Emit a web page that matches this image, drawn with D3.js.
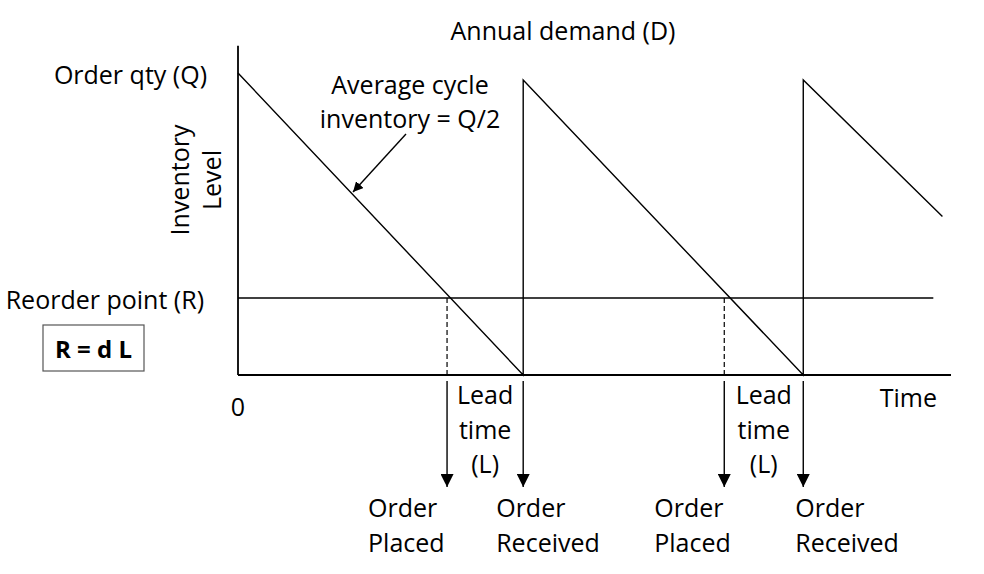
<!DOCTYPE html>
<html>
<head>
<meta charset="utf-8">
<script src="https://cdn.jsdelivr.net/npm/d3@7"></script>
<style>
  body { margin: 0; background: #fff; }
  text { font-family: "Open Sans", Lato, sans-serif; fill: #000; }
</style>
</head>
<body>
<div id="chart"></div>
<script>
// sawtooth inventory profile (time in cycles, level in % of Q)
var times  = [0, 1.0, 1.0, 1.982, 1.982, 2.47];
var levels = [100, 0, 97.7, 0, 97.7, 52.5];
var reorderLevel = 25.5;
var orderPlaced = [0.733, 1.705];
var orderReceived = [1.0, 1.982];

var width = 984, height = 574;
var fs = 25;

var x = d3.scaleLinear().domain([0, 2.5]).range([238, 951]);
var y = d3.scaleLinear().domain([0, 100]).range([375, 73]);

// label offsets from each event arrow (layout only)
var placedShift = [-79, -70];
var receivedShift = [-27, -8];

var svg = d3.select("#chart")
  .append("svg")
    .attr("width", width)
    .attr("height", height);

var defs = svg.append("defs");
defs.append("marker")
    .attr("id", "head")
    .attr("viewBox", "0 0 10 10")
    .attr("refX", 10).attr("refY", 5)
    .attr("markerWidth", 10).attr("markerHeight", 10)
    .attr("markerUnits", "userSpaceOnUse")
    .attr("orient", "auto")
  .append("path")
    .attr("d", "M0,0 L10,5 L0,10 Z")
    .attr("fill", "#000");
defs.append("marker")
    .attr("id", "bighead")
    .attr("viewBox", "0 0 10 10")
    .attr("refX", 10).attr("refY", 5)
    .attr("markerWidth", 14).attr("markerHeight", 13)
    .attr("markerUnits", "userSpaceOnUse")
    .attr("orient", "auto")
  .append("path")
    .attr("d", "M0,0 L10,5 L0,10 Z")
    .attr("fill", "#000");

// axes (no ticks)
svg.append("line")
    .attr("x1", x(0)).attr("x2", x(0))
    .attr("y1", y(0)).attr("y2", y(109))
    .attr("stroke", "#000").attr("stroke-width", 1.8);
svg.append("line")
    .attr("x1", x(0)).attr("x2", x(2.5))
    .attr("y1", y(0)).attr("y2", y(0))
    .attr("stroke", "#000").attr("stroke-width", 1.8);

// reorder point line
svg.append("line")
    .attr("x1", x(0)).attr("x2", x(2.438))
    .attr("y1", y(reorderLevel)).attr("y2", y(reorderLevel))
    .attr("stroke", "#000").attr("stroke-width", 1.4);

// inventory line
var line = d3.line()
  .x(function(d, i) { return x(times[i]); })
  .y(function(d) { return y(d); });

svg.append("path")
    .datum(levels)
    .attr("d", line)
    .attr("fill", "none")
    .attr("stroke", "#000")
    .attr("stroke-width", 1.4);

// dashed drops at order placed
svg.selectAll(".drop")
  .data(orderPlaced)
  .enter().append("line")
    .attr("x1", function(d) { return x(d); })
    .attr("x2", function(d) { return x(d); })
    .attr("y1", y(reorderLevel)).attr("y2", y(0))
    .attr("stroke", "#000").attr("stroke-width", 1.2)
    .attr("stroke-dasharray", "5,3");

// down arrows below axis
var events = orderPlaced.concat(orderReceived);
svg.selectAll(".evt")
  .data(events)
  .enter().append("line")
    .attr("x1", function(d) { return x(d); })
    .attr("x2", function(d) { return x(d); })
    .attr("y1", 381).attr("y2", 487)
    .attr("stroke", "#000").attr("stroke-width", 1.4)
    .attr("marker-end", "url(#bighead)");

// lead time labels
orderPlaced.forEach(function(p, i) {
  var cx = (x(p) + x(orderReceived[i])) / 2;
  var t = svg.append("text")
      .attr("text-anchor", "middle")
      .attr("font-size", fs);
  t.append("tspan").attr("x", cx).attr("y", 404).text("Lead");
  t.append("tspan").attr("x", cx).attr("y", 439).text("time");
  t.append("tspan").attr("x", cx).attr("y", 473).text("(L)");
});

// order labels
function twoLine(x0, l1, l2) {
  var t = svg.append("text").attr("font-size", fs);
  t.append("tspan").attr("x", x0).attr("y", 517).text(l1);
  t.append("tspan").attr("x", x0).attr("y", 552).text(l2);
}
orderPlaced.forEach(function(p, i) { twoLine(x(p) + placedShift[i], "Order", "Placed"); });
orderReceived.forEach(function(p, i) { twoLine(x(p) + receivedShift[i], "Order", "Received"); });

// other labels
svg.append("text").attr("x", 563).attr("y", 40)
    .attr("text-anchor", "middle").attr("font-size", fs)
    .text("Annual demand (D)");
svg.append("text").attr("x", 207).attr("y", 84)
    .attr("text-anchor", "end").attr("font-size", fs)
    .text("Order qty (Q)");
svg.append("text").attr("x", 204).attr("y", 309)
    .attr("text-anchor", "end").attr("font-size", fs)
    .text("Reorder point (R)");
svg.append("text").attr("x", x(0)).attr("y", 416)
    .attr("text-anchor", "middle").attr("font-size", fs)
    .text("0");
svg.append("text").attr("x", 937).attr("y", 407)
    .attr("text-anchor", "end").attr("font-size", fs)
    .text("Time");

// R = dL box
svg.append("rect")
    .attr("x", 43).attr("y", 325)
    .attr("width", 101).attr("height", 46)
    .attr("fill", "none").attr("stroke", "#555").attr("stroke-width", 1.2);
svg.append("text").attr("x", 93.5).attr("y", 358)
    .attr("text-anchor", "middle").attr("font-size", 24)
    .attr("font-weight", "bold")
    .text("R = d L");

// y label
var yl = svg.append("text")
    .attr("transform", "translate(0,180) rotate(-90)")
    .attr("text-anchor", "middle").attr("font-size", fs);
yl.append("tspan").attr("x", 0).attr("y", 189).text("Inventory");
yl.append("tspan").attr("x", 0).attr("y", 221).text("Level");

// average cycle inventory note
var note = svg.append("text")
    .attr("text-anchor", "middle").attr("font-size", fs);
note.append("tspan").attr("x", 410).attr("y", 94).text("Average cycle");
note.append("tspan").attr("x", 410).attr("y", 128).text("inventory = Q/2");

svg.append("line")
    .attr("x1", 406).attr("y1", 134)
    .attr("x2", 353).attr("y2", 192)
    .attr("stroke", "#000").attr("stroke-width", 1.4)
    .attr("marker-end", "url(#head)");
</script>
</body>
</html>
